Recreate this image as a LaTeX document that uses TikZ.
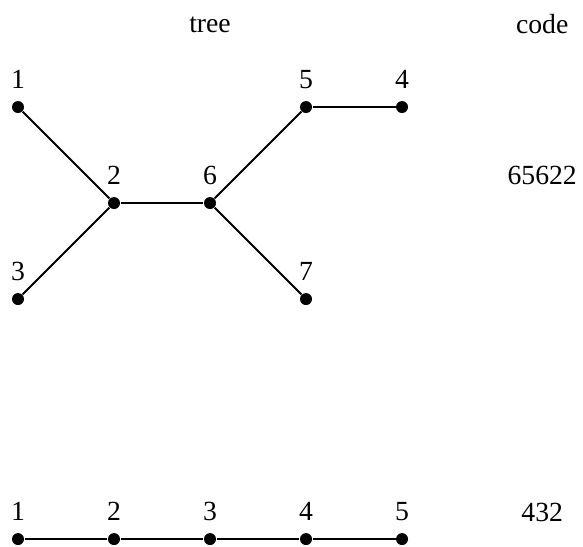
\documentclass[tikz,border=0pt]{standalone}
\usepackage{fontspec}
\setmainfont{Liberation Serif}
\usetikzlibrary{positioning}

\begin{document}
\begin{tikzpicture}[
    x=1.28cm, y=1.28cm,
    font=\fontsize{10.5}{12.6}\selectfont,
    vert/.style={circle, fill=black, inner sep=0pt, minimum size=0.16cm},
    edge/.style={line width=0.75pt},
    head/.style={anchor=center},
    every label/.style={label distance=1pt},
]
    \useasboundingbox (-0.1875,-0.073) rectangle (5.885,5.615);

    % column headings
    \node[head] (tree) at (2,5.36)    {tree};
    \node[head] (code) at (5.46,5.36) {code};

    % the tree
    \node[vert, label=above:1] (t1) at (0,4.5) {};
    \node[vert, label=above:2] (t2) at (1,3.5) {};
    \node[vert, label=above:3] (t3) at (0,2.5) {};
    \node[vert, label=above:6] (t6) at (2,3.5) {};
    \node[vert, label=above:5] (t5) at (3,4.5) {};
    \node[vert, label=above:4] (t4) at (4,4.5) {};
    \node[vert, label=above:7] (t7) at (3,2.5) {};
    \node[head] (tcode) at (5.46,3.79) {65622};

    \draw[edge] (t1) -- (t2);
    \draw[edge] (t3) -- (t2);
    \draw[edge] (t2) -- (t6);
    \draw[edge] (t6) -- (t5);
    \draw[edge] (t5) -- (t4);
    \draw[edge] (t6) -- (t7);

    % the path
    \node[vert, label=above:1] (p1) at (0,0) {};
    \node[vert, label=above:2] (p2) at (1,0) {};
    \node[vert, label=above:3] (p3) at (2,0) {};
    \node[vert, label=above:4] (p4) at (3,0) {};
    \node[vert, label=above:5] (p5) at (4,0) {};
    \node[head] (pcode) at (5.46,0.28) {432};

    \draw[edge] (p1) -- (p2) -- (p3) -- (p4) -- (p5);
\end{tikzpicture}
\end{document}
